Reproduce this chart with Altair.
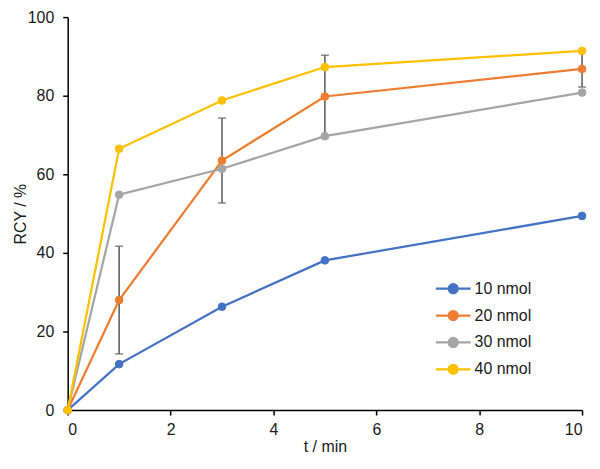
import altair as alt
import pandas as pd

# ---- data ----
times = [0, 1, 3, 5, 10]
series = ["10 nmol", "20 nmol", "30 nmol", "40 nmol"]
rcy_10 = [0, 11.7, 26.3, 38.1, 49.4]
rcy_20 = [0, 28.0, 63.5, 79.8, 86.8]
rcy_30 = [0, 54.8, 61.4, 69.7, 80.8]
rcy_40 = [0, 66.5, 78.8, 87.3, 91.4]
err_times = [1, 3, 5, 10]
err_20 = [13.7, 10.8, 10.5, 4.6]
colors = ["#4472C4", "#ED7D31", "#A5A5A5", "#FFC000"]
x_ticks = [0, 2, 4, 6, 8, 10]
y_ticks = [0, 20, 40, 60, 80, 100]

rows = []
for name, vals in zip(series, [rcy_10, rcy_20, rcy_30, rcy_40]):
    for t, v in zip(times, vals):
        rows.append({"t": t, "rcy": v, "series": name})
df = pd.DataFrame(rows)

erows = []
for t, e in zip(err_times, err_20):
    m = rcy_20[times.index(t)]
    erows.append({"t": t, "lo": m - e, "hi": m + e})
edf = pd.DataFrame(erows)

FONT = "Liberation Sans"
TXT = "#1a1a1a"

xscale = alt.Scale(domain=[0, 10], nice=False)
yscale = alt.Scale(domain=[0, 100], nice=False)
cscale = alt.Scale(domain=series, range=colors)

xaxis = alt.Axis(values=x_ticks, title="t / min", grid=False, tickSize=5,
                 labelPadding=7, titlePadding=1)
yaxis = alt.Axis(values=y_ticks, title="RCY / %", grid=False, tickSize=5,
                 labelPadding=9, titlePadding=-1)

X = alt.X("t:Q", scale=xscale, axis=xaxis)
Y = alt.Y("rcy:Q", scale=yscale, axis=yaxis)

err_rule = alt.Chart(edf).mark_rule(color="#595959", strokeWidth=1.5).encode(
    x=alt.X("t:Q", scale=xscale), y=alt.Y("lo:Q", scale=yscale), y2="hi:Q")
cap_lo = alt.Chart(edf).mark_tick(color="#595959", orient="horizontal", size=8,
                                  thickness=1.5).encode(
    x=alt.X("t:Q", scale=xscale), y=alt.Y("lo:Q", scale=yscale))
cap_hi = alt.Chart(edf).mark_tick(color="#595959", orient="horizontal", size=8,
                                  thickness=1.5).encode(
    x=alt.X("t:Q", scale=xscale), y=alt.Y("hi:Q", scale=yscale))

lines = alt.Chart(df).mark_line(strokeWidth=2.25).encode(
    x=X, y=Y,
    color=alt.Color("series:N", scale=cscale, title=None),
)
points = alt.Chart(df).mark_point(filled=False, size=60, opacity=1,
                                  strokeWidth=1).encode(
    x=X, y=Y,
    color=alt.Color("series:N", scale=cscale, title=None),
    fill=alt.Fill("series:N", scale=cscale, title=None),
    order=alt.Order("series:N"),
)

chart = alt.layer(err_rule, cap_lo, cap_hi, lines, points).properties(
    width=517, height=395,
    autosize=alt.AutoSizeParams(type="none"),
    padding={"left": 60, "top": 8, "right": 10, "bottom": 46},
).configure_view(stroke=None).configure_axis(
    domainColor="black", domainWidth=1.5, tickColor="black", tickWidth=1.5,
    labelFont=FONT, labelFontSize=16, labelColor=TXT,
    titleFont=FONT, titleFontSize=16, titleColor=TXT, titleFontWeight="normal",
).configure_legend(
    orient="none", legendX=367, legendY=265, padding=0,
    symbolType="M-1,0L6,0M1.6,0A0.9,0.9,0,1,1,3.4,0A0.9,0.9,0,1,1,1.6,0Z",
    symbolSize=100, symbolStrokeWidth=2.25, symbolOpacity=1,
    labelOffset=26, labelFont=FONT, labelFontSize=16, labelColor=TXT,
    rowPadding=9,
)

chart.save("out.html", embed_options={"renderer": "svg", "actions": False})
